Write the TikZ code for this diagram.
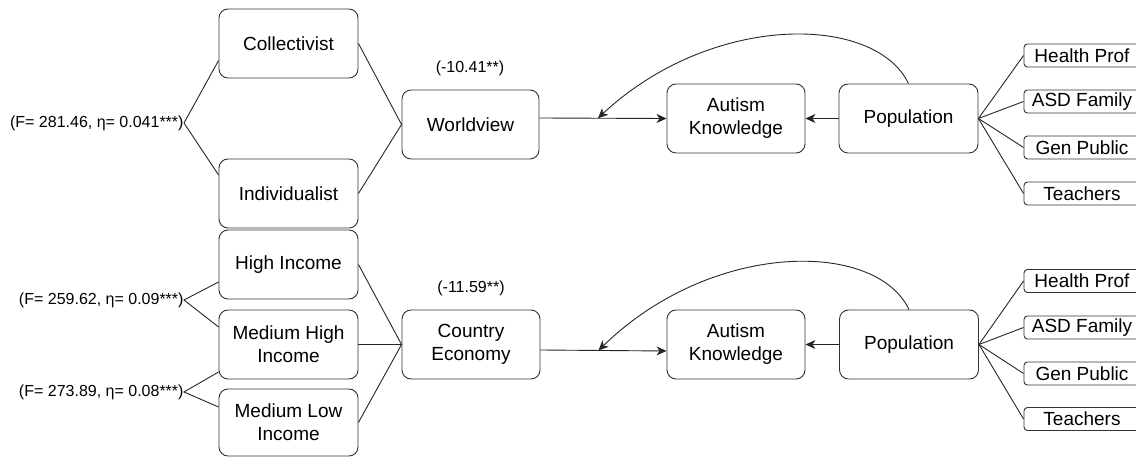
\documentclass[tikz,border=0pt]{standalone}
\usepackage{fontspec}
\setmainfont{Liberation Sans}
\usetikzlibrary{arrows.meta,calc}
\begin{document}
\begin{tikzpicture}[x=1pt,y=-1pt,
  line width=0.9pt,
  bigbox/.style={draw=black!80, rounded corners=9pt, minimum width=139pt, minimum height=69pt, inner sep=0pt, align=center, font=\fontsize{19}{23}\selectfont},
  grpbox/.style={draw=black!80, rounded corners=3.5pt, minimum width=116pt, minimum height=23pt, inner sep=0pt, align=center, font=\fontsize{19}{23}\selectfont},
  lbl/.style={inner sep=0pt, font=\fontsize{16}{19}\selectfont},
  conn/.style={draw=black!85},
  arr/.style={draw=black!85, -{Stealth[length=10pt,width=9pt,inset=3pt]}}
]
\useasboundingbox (0,0) rectangle (1136,457);
\clip (0,0) rectangle (1136,457);

% ---------- top model ----------
\node[bigbox] (col) at (288.5,43.5) {Collectivist};
\node[bigbox] (ind) at (288.5,193.5) {Individualist};
\node[lbl, anchor=east] (f1) at (184,123) {(F= 281.46, η= 0.041***)};
\node[bigbox, minimum width=137pt] (wv) at (470.5,124.5) {Worldview};
\node[lbl] (b1) at (470,68) {(-10.41**)};
\node[bigbox, minimum width=138pt] (ak1) at (736,118.5) {Autism\\Knowledge};
\node[bigbox] (pop1) at (908.5,118.5) {Population};
\node[grpbox] (hp1) at (1082,55.5) {Health Prof};
\node[grpbox] (af1) at (1082,101.5) {ASD Family};
\node[grpbox] (gp1) at (1082,147.5) {Gen Public};
\node[grpbox] (te1) at (1082,193.5) {Teachers};

\draw[conn] ([yshift=-17pt]col.west) -- (f1.east) -- ([yshift=18.5pt]ind.west);
\draw[conn] (col.east) -- (wv.west) -- (ind.east);
\coordinate (wve) at ([yshift=6.5pt]wv.east);
\draw[arr] (wve) -- (ak1.west);
\coordinate (m1) at ($(wve)!0.46!(ak1.west)$);
\draw[arr] (pop1.west) -- (ak1.east);
\draw[arr] (pop1.north) .. controls (875,14) and (712,12) .. (m1);
\foreach \g in {hp1,af1,gp1,te1} \draw[conn] (pop1.east) -- (\g.west);

% ---------- bottom model ----------
\node[bigbox] (hi) at (288.5,264.5) {High Income};
\node[bigbox] (mh) at (288.5,344.5) {Medium High\\Income};
\node[bigbox, minimum height=67pt] (ml) at (288.5,422.5) {Medium Low\\Income};
\node[lbl, anchor=east] (f2) at (184,300) {(F= 259.62, η= 0.09***)};
\node[lbl, anchor=east] (f3) at (184,392) {(F= 273.89, η= 0.08***)};
\node[bigbox, minimum width=138pt] (ce) at (471,344.5) {Country\\Economy};
\node[lbl] (b2) at (471,288) {(-11.59**)};
\node[bigbox, minimum width=138pt] (ak2) at (736,344.5) {Autism\\Knowledge};
\node[bigbox] (pop2) at (909,344.5) {Population};
\node[grpbox] (hp2) at (1082,281) {Health Prof};
\node[grpbox] (af2) at (1082,327.5) {ASD Family};
\node[grpbox] (gp2) at (1082,373.5) {Gen Public};
\node[grpbox] (te2) at (1082,419) {Teachers};

\draw[conn] ([yshift=-17.5pt]hi.west) -- (f2.east) -- ([yshift=17.5pt]mh.west);
\draw[conn] ([yshift=-27.5pt]mh.west) -- (f3.east) -- ([yshift=15.5pt]ml.west);
\draw[conn] (hi.east) -- (ce.west);
\draw[conn] (mh.east) -- (ce.west);
\draw[conn] (ml.east) -- (ce.west);
\coordinate (cee) at ([yshift=-5.5pt]ce.east);
\coordinate (ak2w) at ([yshift=-6.5pt]ak2.west);
\draw[arr] (cee) -- (ak2w);
\coordinate (m2) at ($(cee)!0.46!(ak2w)$);
\draw[arr] (pop2.west) -- (ak2.east);
\draw[arr] (pop2.north) .. controls (876,240) and (712,240) .. (m2);
\foreach \g in {hp2,af2,gp2,te2} \draw[conn] (pop2.east) -- (\g.west);
\end{tikzpicture}
\end{document}
